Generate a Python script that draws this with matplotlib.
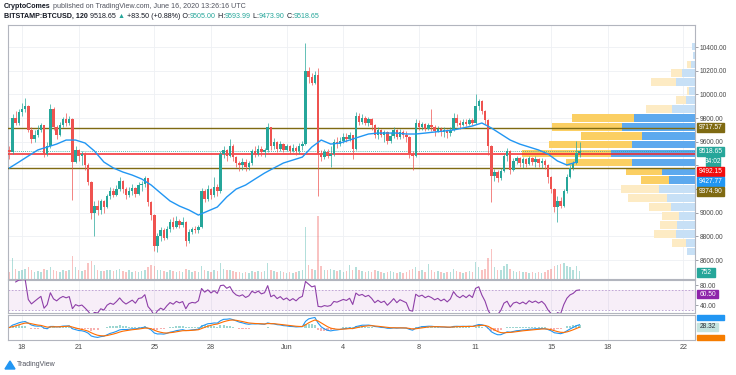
import numpy as np
import pandas as pd
import matplotlib
matplotlib.use("Agg")
import matplotlib.pyplot as plt
from matplotlib.patches import Rectangle, Polygon

plt.rcParams['font.family'] = ['Liberation Sans', 'DejaVu Sans']

# ---- data (BITSTAMP:BTCUSD, 4h steps from May 17 08:00) ----
first_open = 9530
closes = [9510, 9800, 9760, 9850, 9880, 9900, 9700, 9620, 9660, 9700,
          9740, 9500, 9560, 9880, 9720, 9660, 9740, 9790, 9760, 9790,
          9430, 9530, 9480, 9500, 9400, 9260, 9000, 9060, 9020, 9100,
          9050, 9140, 9180, 9150, 9200, 9270, 9200, 9150, 9180, 9210,
          9160, 9230, 9240, 9290, 9090, 8980, 8720, 8800, 8850, 8790,
          8860, 8920, 8880, 8930, 8900, 8920, 8760, 8840, 8860, 8850,
          8880, 9180, 9120, 9200, 9150, 9220, 9180, 9500, 9530, 9480,
          9560, 9470, 9420, 9400, 9430, 9390, 9420, 9520, 9500, 9540,
          9510, 9530, 9720, 9560, 9600, 9540, 9580, 9530, 9560, 9520,
          9550, 9520, 9560, 9580, 10200, 10150, 10100, 10160, 9500, 9470,
          9510, 9480, 9500, 9600, 9580, 9610, 9640, 9620, 9660, 9540,
          9820, 9770, 9800, 9760, 9790, 9740, 9660, 9700, 9660, 9680,
          9610, 9650, 9700, 9640, 9680, 9660, 9640, 9500, 9480, 9760,
          9720, 9750, 9710, 9740, 9720, 9690, 9710, 9680, 9700, 9670,
          9700, 9800, 9760, 9740, 9770, 9750, 9780, 9760, 9900, 9940,
          9860, 9780, 9560, 9310, 9340, 9290, 9350, 9480, 9520, 9360,
          9440, 9460, 9420, 9450, 9410, 9460, 9430, 9450, 9420, 9440,
          9400, 9300, 9200, 9050, 9100, 9060, 9180, 9300, 9380, 9420,
          9505, 9518.65]
highs = [9560, 9830, 9860, 9880, 9930, 9970, 9910, 9720, 9700, 9740,
         9760, 9740, 9600, 9920, 9890, 9740, 9770, 9810, 9840, 9820,
         9800, 9560, 9540, 9520, 9510, 9420, 9270, 9100, 9110, 9120,
         9110, 9160, 9220, 9210, 9230, 9300, 9280, 9220, 9220, 9240,
         9220, 9260, 9270, 9310, 9290, 9100, 8990, 8830, 8880, 8870,
         8890, 8950, 8960, 8970, 8950, 8960, 8930, 8860, 8880, 8890,
         8900, 9210, 9200, 9230, 9210, 9300, 9240, 9520, 9560, 9540,
         9620, 9580, 9480, 9440, 9460, 9450, 9440, 9540, 9560, 9570,
         9560, 9550, 9760, 9720, 9630, 9610, 9610, 9590, 9580, 9570,
         9580, 9560, 9590, 9610, 10430, 10230, 10180, 10200, 10220, 9530,
         9540, 9540, 9560, 9620, 9640, 9640, 9670, 9670, 9680, 9660,
         9850, 9840, 9830, 9820, 9810, 9800, 9750, 9720, 9710, 9700,
         9690, 9680, 9720, 9710, 9710, 9700, 9690, 9650, 9520, 9790,
         9780, 9770, 9760, 9760, 9880, 9740, 9730, 9720, 9720, 9710,
         9720, 9840, 9830, 9780, 9790, 9790, 9800, 9800, 10000, 9960,
         9950, 9870, 9790, 9570, 9370, 9360, 9380, 9500, 9550, 9530,
         9460, 9480, 9470, 9470, 9460, 9480, 9470, 9480, 9460, 9460,
         9450, 9410, 9310, 9210, 9140, 9130, 9200, 9330, 9400, 9440,
         9610, 9593.99]
lows = [9450, 9500, 9740, 9740, 9820, 9850, 9680, 9590, 9600, 9640,
        9680, 9470, 9480, 9550, 9700, 9620, 9650, 9720, 9730, 9740,
        9110, 9420, 9440, 9400, 9360, 9230, 8950, 8800, 8980, 8990,
        9000, 9040, 9120, 9130, 9140, 9180, 9170, 9120, 9130, 9150,
        9130, 9150, 9180, 9220, 9060, 8940, 8680, 8670, 8760, 8770,
        8780, 8840, 8860, 8870, 8870, 8880, 8720, 8740, 8820, 8830,
        8830, 8870, 9090, 9100, 9120, 9130, 9140, 9170, 9460, 9440,
        9470, 9440, 9390, 9350, 9360, 9350, 9360, 9400, 9470, 9480,
        9480, 9470, 9510, 9530, 9540, 9510, 9520, 9510, 9520, 9500,
        9510, 9490, 9500, 9530, 9570, 10100, 10080, 10090, 9140, 9440,
        9450, 9460, 9390, 9480, 9550, 9560, 9590, 9600, 9610, 9450,
        9530, 9740, 9750, 9740, 9730, 9700, 9630, 9620, 9640, 9600,
        9580, 9590, 9630, 9620, 9620, 9630, 9600, 9460, 9360, 9470,
        9700, 9700, 9690, 9700, 9690, 9650, 9680, 9650, 9640, 9630,
        9650, 9690, 9730, 9710, 9730, 9730, 9740, 9740, 9750, 9870,
        9830, 9750, 9490, 9090, 9270, 9260, 9280, 9340, 9440, 9330,
        9350, 9410, 9390, 9380, 9390, 9400, 9400, 9390, 9390, 9380,
        9370, 9250, 9170, 9010, 8920, 9040, 9050, 9170, 9290, 9360,
        9410, 9473.90]
volumes = [6, 18, 9, 7, 8, 9, 10, 8, 6, 7,
           6, 9, 8, 10, 8, 7, 6, 8, 7, 8,
           20, 10, 8, 7, 8, 14, 16, 12, 8, 7,
           7, 8, 8, 7, 8, 9, 7, 6, 8, 6,
           7, 6, 7, 8, 10, 12, 11, 8, 8, 7,
           6, 8, 7, 6, 7, 6, 9, 8, 6, 7,
           6, 11, 8, 7, 6, 8, 7, 14, 9, 8,
           8, 7, 6, 6, 5, 6, 5, 7, 6, 7,
           6, 7, 14, 8, 7, 6, 7, 6, 5, 6,
           5, 6, 7, 8, 45, 12, 9, 8, 55, 11,
           8, 8, 9, 8, 7, 8, 6, 7, 12, 8,
           10, 8, 7, 6, 7, 6, 8, 7, 6, 5,
           6, 7, 6, 5, 6, 5, 6, 8, 9, 10,
           7, 8, 6, 13, 8, 6, 7, 6, 5, 6,
           6, 9, 7, 6, 5, 6, 7, 6, 15, 10,
           8, 9, 18, 26, 10, 8, 8, 11, 13, 9,
           7, 6, 7, 6, 6, 5, 6, 5, 6, 5,
           6, 8, 9, 11, 12, 13, 14, 11, 10, 8,
           11, 7]

# moving average, read every 12h (every 3rd candle)
ma_values = [9378, 9428, 9479, 9530, 9555, 9580, 9614, 9614, 9589, 9521,
             9428, 9378, 9344, 9318, 9285, 9234, 9166, 9099, 9056, 9023,
             8980, 9014, 9048, 9133, 9200, 9234, 9285, 9335, 9378, 9420,
             9445, 9470, 9555, 9614, 9580, 9589, 9614, 9640, 9665, 9673,
             9673, 9673, 9665, 9665, 9673, 9682, 9690, 9699, 9716, 9733,
             9758, 9716, 9665, 9614, 9580, 9555, 9530, 9496, 9437, 9403,
             9427.77]

# visible range volume profile, bins from the bottom
profile_low = 8634
profile_step = 75.3
profile_up = [0, 14, 22, 17, 17, 22, 39, 38, 28, 36, 66, 89, 83, 61, 70, 62,
              26, 10, 2, 25, 11, 4, 0, 0]
profile_down = [8, 9, 19, 18, 16, 24, 28, 36, 26, 33, 63, 84, 63, 53, 73, 61,
                23, 9, 6, 19, 13, 4, 2, 3]
value_area = (8, 15)

levels_olive = [9717.57, 9374.90]
level_red = 9492.15
last_price = 9518.65

date_ticks = [0, 3, 7, 10, 14, 17, 21, 24, 28, 31, 35]
date_labels = ['18', '21', '25', '28', 'Jun', '4', '8', '11', '15', '18', '22']
price_ticks = list(range(8600, 10401, 200))
hidden_ticks = [9200, 9400]  # covered by the price tags

# ---- figure ----
W, H = 736, 375
fig = plt.figure(figsize=(W / 100, H / 100), dpi=100)


def pane(x0, y0, x1, y1):
    return fig.add_axes([x0 / W, 1 - y1 / H, (x1 - x0) / W, (y1 - y0) / H])


ax = pane(8, 25, 695, 279)
ax_rsi = pane(8, 280, 695, 313)
ax_macd = pane(8, 315, 695, 340)

n = len(closes)
t = -2 / 3 + np.arange(n) / 6.0
closes = np.array(closes, float)
highs = np.array(highs, float)
lows = np.array(lows, float)
opens = np.concatenate([[first_open], closes[:-1]])
up = closes >= opens
UP, DN = '#26a69a', '#ef5350'
ccol = np.where(up, UP, DN)

xmin, xmax = -0.741, 35.61
grid_c = '#eef0f4'
frame_c = '#b2b5be'

for a in (ax, ax_rsi, ax_macd):
    a.set_xlim(xmin, xmax)
    for s in a.spines.values():
        s.set_color(frame_c)
        s.set_linewidth(0.8)
    for d in date_ticks:
        a.axvline(d, color=grid_c, lw=0.6, zorder=0)
    a.set_xticks(date_ticks)
    a.tick_params(axis='x', length=0, labelbottom=False)

# main pane
ax.set_ylim(8440, 10586)
for p in price_ticks:
    ax.axhline(p, color=grid_c, lw=0.6, zorder=0)

# volume at bottom of main pane
vmax = max(volumes)
ax.bar(t, np.array(volumes) / vmax * 0.25, bottom=0, width=0.08, color=ccol,
       alpha=0.35, transform=ax.get_xaxis_transform(), zorder=1, lw=0)

# volume profile
tot = np.array(profile_up) + np.array(profile_down)
scale = 9.15 / tot.max()
centers = profile_low + profile_step * (np.arange(len(tot)) + 0.5)
for k in range(len(tot)):
    bright = value_area[0] <= k <= value_area[1]
    cb = '#5da9ee' if bright else '#c7e0f6'
    cy = '#fbcf63' if bright else '#fdebc4'
    wd = profile_down[k] * scale
    wu = profile_up[k] * scale
    ax.barh(centers[k], wd, left=xmax - wd, height=profile_step * 0.86,
            color=cb, zorder=2, lw=0)
    ax.barh(centers[k], wu, left=xmax - wd - wu, height=profile_step * 0.86,
            color=cy, zorder=2, lw=0)

# horizontal levels
for lv in levels_olive:
    ax.axhline(lv, color='#7f6a12', lw=1.0, zorder=3)
ax.axhline(level_red, color='#f2262b', lw=1.1, zorder=3)
ax.axhline(last_price, color=UP, lw=0.6, ls=(0, (1, 1.5)), zorder=3)

# candles
body = np.maximum(np.abs(closes - opens), 8)
ax.vlines(t, lows, highs, color=ccol, lw=0.5, zorder=4)
ax.bar(t, body, bottom=np.minimum(opens, closes), width=0.13, color=ccol,
       zorder=4, lw=0)

# moving average
ax.plot(t[::3], ma_values, color='#2196f3', lw=1.0, zorder=5)

ax.yaxis.tick_right()
ax.set_yticks(price_ticks)
ax.set_yticklabels(['' if p in hidden_ticks else f'{p:.2f}' for p in price_ticks])
ax.tick_params(axis='y', labelsize=4.8, labelcolor='#4a4a4a', color='#787b86',
               length=2, width=0.5, pad=1.5)

# RSI
cl = pd.Series(closes)
d = cl.diff()
g = d.clip(lower=0).ewm(alpha=1 / 7, adjust=True).mean()
l = (-d.clip(upper=0)).ewm(alpha=1 / 7, adjust=True).mean()
rsi = (100 - 100 / (1 + g / l)).to_numpy()
ax_rsi.set_ylim(24, 90)
ax_rsi.axhspan(30, 70, color='#9c27b0', alpha=0.08, lw=0, zorder=0)
for lv in (70, 30):
    ax_rsi.axhline(lv, color='#b79ad0', lw=0.6, ls=(0, (2, 2)), zorder=1)
ax_rsi.plot(t[2:], rsi[2:], color='#8e3fa8', lw=0.8, zorder=3)
ax_rsi.yaxis.tick_right()
ax_rsi.set_yticks([40, 80])
ax_rsi.set_yticklabels(['40.00', '80.00'])
ax_rsi.tick_params(axis='y', labelsize=4.8, labelcolor='#4a4a4a',
                   color='#787b86', length=2, width=0.5, pad=1.5)

# MACD
e_fast = cl.ewm(span=6, adjust=False).mean()
e_slow = cl.ewm(span=13, adjust=False).mean()
macd = (e_fast - e_slow).to_numpy()
sig = pd.Series(macd).ewm(span=5, adjust=False).mean().to_numpy()
hist = macd - sig
lim = np.abs(macd).max() * 1.25
ax_macd.set_ylim(-lim, lim)
ax_macd.bar(t, hist, width=0.11, color=np.where(hist >= 0, UP, DN),
            alpha=0.45, zorder=1, lw=0)
ax_macd.plot(t, macd, color='#2196f3', lw=0.8, zorder=3)
ax_macd.plot(t, sig, color='#ff6d00', lw=0.8, zorder=3)
ax_macd.set_yticks([])
ax_macd.tick_params(axis='x', labelbottom=True, labelsize=5.2,
                    labelcolor='#4a4a4a', pad=3)
ax_macd.set_xticklabels(date_labels)


# price tags on the right scale
def tag(ypx, txt, bg, fg='white', x0=697, x1=724, h=8.5):
    fig.patches.append(Rectangle((x0 / W, 1 - (ypx + h / 2) / H), (x1 - x0) / W,
                                 h / H, transform=fig.transFigure, color=bg,
                                 zorder=5))
    fig.text((x0 + x1) / 2 / W, 1 - ypx / H, txt, color=fg, fontsize=4.8,
             ha='center', va='center', zorder=6)


tag(127.5, '9717.57', '#7f6a12')
tag(151.5, '9518.65', UP)
tag(161.5, '34:02', UP, x0=706, x1=720)
tag(171.7, '9492.15', '#f20d0d')
tag(181.7, '9427.77', '#2196f3')
tag(191.7, '9374.90', '#7f6a12')
tag(272.5, '752', UP, x1=715)
tag(294, '60.50', '#8e24aa', x1=718)
tag(317.5, '', '#2196f3', h=5)
tag(327, '28.32', '#c4e3df', fg='#2a2e39', x1=718)
tag(337.5, '', '#f57c00', h=5)

# header
r = fig.canvas.get_renderer()


def header(ypx, parts):
    x = 4
    for s, bold, col in parts:
        tx = fig.text(x / W, 1 - ypx / H, s, fontsize=5.1, color=col,
                      fontweight='bold' if bold else 'normal', va='center',
                      ha='left')
        x += tx.get_window_extent(r).width


dark, grey, green = '#131722', '#50535e', '#26a69a'
header(6, [('CryptoComes', True, dark),
           (' published on TradingView.com, June 16, 2020 13:26:16 UTC', False, grey)])
header(16, [('BITSTAMP:BTCUSD, 120', True, dark), (' 9518.65 ', False, dark),
            ('▲', False, green), (' +83.50 (+0.88%) O:', False, dark),
            ('9505.00', False, green), (' H:', False, dark), ('9593.99', False, green),
            (' L:', False, dark), ('9473.90', False, green), (' C:', False, dark),
            ('9518.65', False, green)])

# TradingView logo
fig.patches.append(Polygon([(5 / W, 1 - 369 / H), (10 / W, 1 - 361 / H),
                            (15 / W, 1 - 369 / H)], closed=True,
                           transform=fig.transFigure, color='#2196f3'))
fig.text(17 / W, 1 - 365 / H, 'TradingView', fontsize=5, color='#50535e',
         va='center', ha='left')

fig.savefig('out.png', dpi=100)
